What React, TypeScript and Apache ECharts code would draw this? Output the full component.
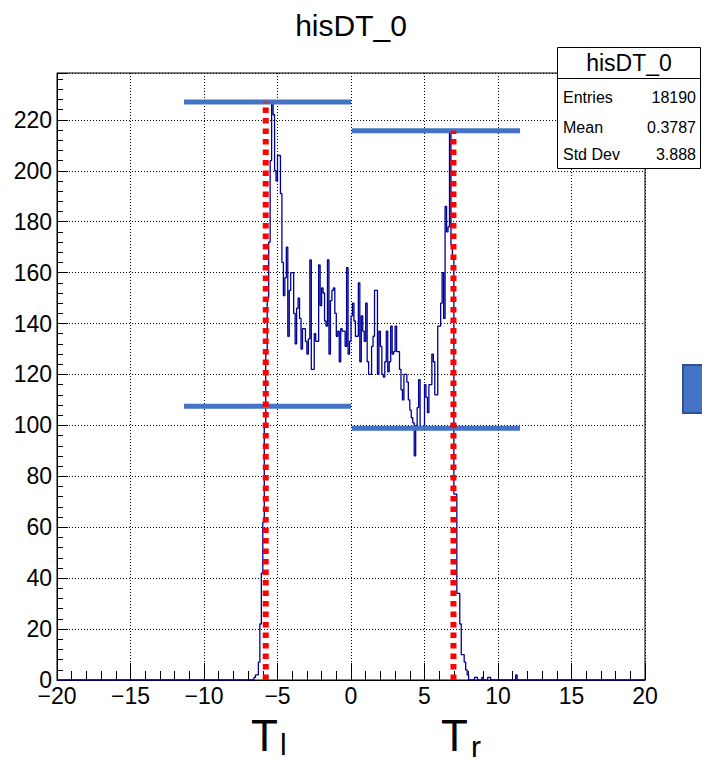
import React, { useEffect, useRef } from "react";
import * as echarts from "echarts";

// ---------- data ----------
const TITLE = "hisDT_0";
const X_MIN = -20;
const X_MAX = 20;
const X_INTERVAL = 5;
const Y_MIN = 0;
const Y_MAX = 238.4;
const Y_INTERVAL = 20;

const BIN_WIDTH = 0.1;
const FIRST_BIN = -6.6; // lower edge of the first bin listed in binCounts
const binCounts = [
  1, 2, 2, 7, 22, 42, 62, 100, 128, 150, // -6.6 .. -5.7
  172, 204, 227, 222, 200, 196, 206, 206, 191, 164, // -5.6 .. -4.7
  151, 158, 170, 135, 153, 160, 160, 144, 132, 146, // -4.6 .. -3.7
  150, 142, 130, 138, 138, 133, 128, 134, 165, 122, // -3.6 .. -2.7
  122, 136, 133, 133, 163, 147, 154, 152, 141, 139, // -2.6 .. -1.7
  165, 128, 149, 153, 154, 144, 135, 137, 125, 138, // -1.6 .. -0.7
  137, 137, 131, 162, 128, 133, 143, 148, 141, 135, // -0.6 .. 0.3
  135, 156, 125, 143, 137, 133, 148, 125, 120, 120, // 0.4 .. 1.3
  131, 135, 153, 153, 120, 137, 131, 120, 119, 125, // 1.4 .. 2.3
  137, 121, 125, 139, 128, 129, 139, 129, 129, 122, // 2.4 .. 3.3
  114, 110, 120, 120, 117, 110, 106, 103, 101, 88, // 3.4 .. 4.3
  100, 107, 118, 99, 99, 99, 116, 111, 105, 116, // 4.4 .. 5.3
  116, 128, 125, 112, 112, 139, 139, 148, 160, 142, // 5.4 .. 6.3
  186, 176, 178, 216, 171, 166, 73, 73, 34, 34, // 6.4 .. 7.3
  22, 10, 10, 7, 4, 2, // 7.4 .. 7.9
];
// isolated bins in the right tail: [lower edge, count]
const tailBins: [number, number][] = [
  [8.4, 1],
  [8.5, 1],
  [8.9, 1],
  [9.3, 1],
  [9.4, 1],
  [11.2, 2],
];

// annotation levels (blue) and edges (red)
const leftLevelsY = [227, 107.5];
const leftLevelsX = [-11.36, 0];
const rightLevelsY = [215.7, 98.9];
const rightLevelsX = [0.05, 11.5];
const edgeX = [-5.8, 6.97];
const edgeTop = [227, 215.7];

const statsNames = ["Entries", "Mean", "Std Dev"];
const statsValues = ["18190", "0.3787", "3.888"];

const FONT = "'Liberation Sans', Arial, Helvetica, sans-serif";

function buildStepData(): number[][] {
  const nBins = Math.round((X_MAX - X_MIN) / BIN_WIDTH);
  const counts: number[] = new Array(nBins).fill(0);
  const offset = Math.round((FIRST_BIN - X_MIN) / BIN_WIDTH);
  binCounts.forEach((c, i) => {
    counts[offset + i] = c;
  });
  tailBins.forEach(([x, c]) => {
    counts[Math.round((x - X_MIN) / BIN_WIDTH)] = c;
  });
  const pts = counts.map((c, i) => [+(X_MIN + i * BIN_WIDTH).toFixed(2), c]);
  pts.push([X_MAX, 0]);
  return pts;
}

const minus = (v: number) => String(v).replace("-", "\u2212");

export default function App() {
  const ref = useRef<HTMLDivElement>(null);

  useEffect(() => {
    document.body.style.margin = "0";
    if (!ref.current) return;
    const chart = echarts.init(ref.current, null, { renderer: "svg" });

    const levelSeries: any[] = [];
    leftLevelsY.forEach((y) => {
      levelSeries.push({
        type: "line",
        data: [
          [leftLevelsX[0], y],
          [leftLevelsX[1], y],
        ],
        symbol: "none",
        silent: true,
        z: 5,
        lineStyle: { color: "#4472C4", width: 5, cap: "butt" },
      });
    });
    rightLevelsY.forEach((y) => {
      levelSeries.push({
        type: "line",
        data: [
          [rightLevelsX[0], y],
          [rightLevelsX[1], y],
        ],
        symbol: "none",
        silent: true,
        z: 5,
        lineStyle: { color: "#4472C4", width: 5, cap: "butt" },
      });
    });
    const edgeSeries = edgeX.map((x, i) => ({
      type: "line",
      data: [
        [x, 0],
        [x, edgeTop[i]],
      ],
      symbol: "none",
      silent: true,
      z: 6,
      lineStyle: { color: "#FF0000", width: 6, type: [5.5, 5], cap: "butt" },
    }));

    const TOP_Z = 100;
    const graphics: any[] = [
      {
        type: "rect",
        z: TOP_Z,
        shape: { x: 557.5, y: 47.5, width: 143, height: 121 },
        style: { fill: "#fff", stroke: "#000", lineWidth: 1 },
      },
      {
        type: "line",
        z: TOP_Z + 1,
        shape: { x1: 557.5, y1: 78.5, x2: 700.5, y2: 78.5 },
        style: { stroke: "#000", lineWidth: 1 },
      },
      {
        type: "text",
        z: TOP_Z + 1,
        x: 629,
        y: 63,
        style: {
          text: TITLE,
          fontSize: 23,
          fontFamily: FONT,
          fill: "#000",
          align: "center",
          verticalAlign: "middle",
        },
      },
    ];
    const rowY = [97, 127, 154];
    statsNames.forEach((n, i) => {
      graphics.push({
        type: "text",
        z: TOP_Z + 1,
        x: 563,
        y: rowY[i],
        style: {
          text: n,
          fontSize: 16,
          fontFamily: FONT,
          fill: "#000",
          align: "left",
          verticalAlign: "middle",
        },
      });
      graphics.push({
        type: "text",
        z: TOP_Z + 1,
        x: 696,
        y: rowY[i],
        style: {
          text: statsValues[i],
          fontSize: 16,
          fontFamily: FONT,
          fill: "#000",
          align: "right",
          verticalAlign: "middle",
        },
      });
    });

    const bigText = (text: string, x: number, y: number, size: number) => ({
      type: "text",
      z: TOP_Z,
      x,
      y,
      style: {
        text,
        fontSize: size,
        fontFamily: FONT,
        fill: "#000",
        align: "left",
        verticalAlign: "middle",
      },
    });

    graphics.push(
      {
        type: "rect",
        z: TOP_Z,
        shape: { x: 683, y: 365, width: 26, height: 48 },
        style: { fill: "#4472C4", stroke: "#2F528F", lineWidth: 2 },
      },
      bigText("T", 251, 735, 44),
      bigText("l", 280, 744, 30),
      bigText("T", 441, 735, 44),
      bigText("r", 471, 746, 30)
    );

    chart.setOption({
      animation: false,
      backgroundColor: "#fff",
      title: {
        text: TITLE,
        left: "center",
        top: 5,
        textStyle: {
          fontSize: 30,
          fontWeight: "normal",
          fontFamily: FONT,
          color: "#000",
        },
      },
      grid: {
        left: 57,
        right: 57,
        top: 73,
        bottom: 78,
        show: true,
        borderColor: "#000",
        borderWidth: 1,
        backgroundColor: "transparent",
      },
      xAxis: {
        type: "value",
        min: X_MIN,
        max: X_MAX,
        interval: X_INTERVAL,
        axisLine: { show: true, onZero: false, lineStyle: { color: "#000", width: 1 } },
        axisTick: { show: true, inside: true, length: 17, lineStyle: { color: "#000" } },
        minorTick: { show: true, splitNumber: 5, length: 9, lineStyle: { color: "#000" } },
        axisLabel: {
          color: "#000",
          fontSize: 23,
          fontFamily: FONT,
          margin: 4,
          hideOverlap: false,
          showMinLabel: true,
          showMaxLabel: true,
          formatter: (v: number) => minus(v),
        },
        splitLine: { show: true, lineStyle: { type: [1, 2], color: "#000", width: 1 } },
      },
      yAxis: {
        type: "value",
        min: Y_MIN,
        max: Y_MAX,
        interval: Y_INTERVAL,
        axisLine: { show: true, onZero: false, lineStyle: { color: "#000", width: 1 } },
        axisTick: { show: true, inside: true, length: 11, lineStyle: { color: "#000" } },
        minorTick: { show: true, splitNumber: 5, length: 6, lineStyle: { color: "#000" } },
        axisLabel: {
          color: "#000",
          fontSize: 23,
          fontFamily: FONT,
          margin: 5,
          showMaxLabel: false,
          formatter: (v: number) => (Math.abs(v % Y_INTERVAL) < 1e-6 ? String(v) : ""),
        },
        splitLine: { show: true, lineStyle: { type: [1, 2], color: "#000", width: 1 } },
      },
      series: [
        {
          type: "line",
          name: TITLE,
          data: buildStepData(),
          step: "end",
          symbol: "none",
          silent: true,
          z: 3,
          lineStyle: { color: "#000099", width: 1.3 },
        },
        ...levelSeries,
        ...edgeSeries,
      ],
      graphic: graphics,
    });

    return () => chart.dispose();
  }, []);

  return (
    <div
      ref={ref}
      style={{ position: "fixed", left: 0, top: 0, width: 702, height: 758 }}
    />
  );
}
